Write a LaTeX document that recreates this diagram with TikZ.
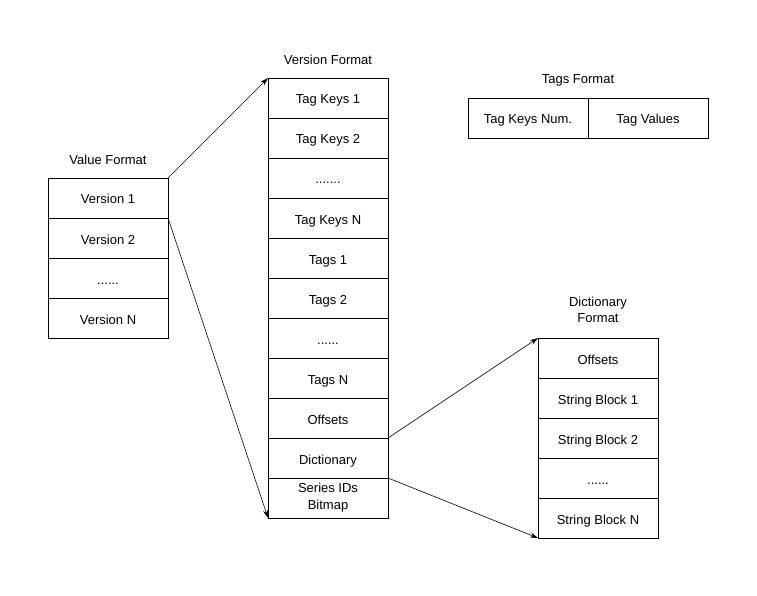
\documentclass[tikz,border=0pt]{standalone}
\usepackage{fontspec}
\setmainfont{Liberation Sans}
\usetikzlibrary{arrows.meta}
\newcommand{\sixdots}{......}
\newcommand{\sevendots}{.......}
\tikzset{>/.tip={Stealth[length=8pt,width=5pt]},
  cell/.style={draw, line width=0.8pt, minimum width=120pt, minimum height=40pt,
    inner sep=0pt, outer sep=0pt, align=center, text height=12pt, text depth=0pt,
    font=\fontsize{13}{15}\selectfont},
  title/.style={align=center, font=\fontsize{13}{16}\selectfont}}

\begin{document}
\begin{tikzpicture}[x=1pt,y=-1pt]
\useasboundingbox (0,0) rectangle (757,596);
\node[title] (valtitle)  at (108,160) {Value Format};
\node[title] (vertitle)  at (328,60)  {Version Format};
\node[title] (tagtitle)  at (578,80)  {Tags Format};
\node[title] (dicttitle) at (598,310) {Dictionary\\Format};
\foreach \t [count=\i] in {Version 1,Version 2,\sixdots,Version N}
{
  \node[cell] (val\i) at (108,158+40*\i) {\t};
}
\foreach \t [count=\i] in {Tag Keys 1,Tag Keys 2,\sevendots,Tag Keys N,Tags 1,Tags 2,\sixdots,Tags N,Offsets,Dictionary}
{
  \node[cell] (ver\i) at (328,58+40*\i) {\t};
}
\node[cell, text height=, text depth=, font=\fontsize{13}{17}\selectfont] (ver11) at (328,498) {Series IDs\\Bitmap};
\node[cell] (tag1) at (528,118) {Tag Keys Num.};
\node[cell] (tag2) at (648,118) {Tag Values};
\foreach \t [count=\i] in {Offsets,String Block 1,String Block 2,\sixdots,String Block N}
{
  \node[cell] (dict\i) at (598,318+40*\i) {\t};
}
\draw[->, line width=0.6pt] (val1.north east) -- (ver1.north west);
\draw[->, line width=0.6pt] (val1.south east) -- (ver11.south west);
\draw[->, line width=0.6pt] (ver10.north east) -- (dict1.north west);
\draw[->, line width=0.6pt] (ver10.south east) -- (dict5.south west);
\end{tikzpicture}
\end{document}
